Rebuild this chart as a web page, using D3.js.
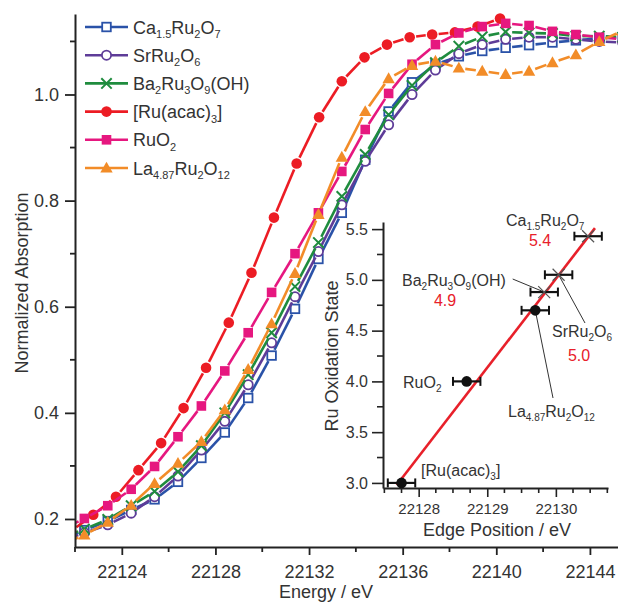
<!DOCTYPE html>
<html><head><meta charset="utf-8">
<script src="https://cdn.jsdelivr.net/npm/d3@7"></script>
<style>
html,body{margin:0;padding:0;background:#fff;}
svg{display:block;font-family:"Liberation Sans",Arial,sans-serif;}
</style></head><body>
<svg id="chart" width="618" height="602"></svg>
<script>
// ---------------- DATA ----------------
const energyGrid = [22121.4,22122.4,22123.4,22124.4,22125.4,22126.4,22127.4,22128.4,22129.4,22130.4,
  22131.4,22132.4,22133.4,22134.4,22135.4,22136.4,22137.4,22138.4,22139.4,22140.4,22141.4,22142.4,22143.4,22144.4,22145.4];
const ca15Values = [0.160,0.179,0.196,0.217,0.237,0.270,0.315,0.363,0.428,0.508,0.596,0.690,0.777,0.877,0.968,1.023,1.057,1.072,1.082,1.088,1.093,1.098,1.102,1.106,1.108];
const srValues   = [0.157,0.174,0.189,0.211,0.242,0.281,0.330,0.384,0.453,0.532,0.619,0.704,0.792,0.874,0.943,1.000,1.046,1.077,1.094,1.104,1.108,1.108,1.104,1.100,1.098];
const baValues   = [0.164,0.181,0.199,0.225,0.252,0.289,0.338,0.400,0.472,0.551,0.638,0.721,0.808,0.887,0.962,1.017,1.060,1.091,1.109,1.118,1.116,1.115,1.110,1.110,1.108];
const ruo2Values = [0.179,0.201,0.225,0.256,0.299,0.355,0.413,0.479,0.551,0.627,0.700,0.777,0.855,0.934,1.002,1.057,1.094,1.116,1.128,1.134,1.130,1.119,1.113,1.108,1.104];
const laValues   = [0.151,0.170,0.194,0.226,0.267,0.305,0.346,0.406,0.482,0.568,0.663,0.774,0.882,0.968,1.030,1.055,1.063,1.050,1.044,1.038,1.044,1.060,1.075,1.100,1.120];
const acacEnergy = [22121.83,22122.78,22123.75,22124.71,22125.68,22126.64,22127.60,22128.57,22129.54,22130.50,
  22131.47,22132.43,22133.40,22134.37,22135.33,22136.30,22137.26,22138.23,22139.20,22140.16];
const acacValues = [0.177,0.208,0.242,0.292,0.343,0.409,0.485,0.570,0.664,0.768,0.870,0.957,1.025,1.070,1.094,1.108,1.113,1.117,1.128,1.143];

const seriesNames = ["Ca_{1.5}Ru_{2}O_{7}","SrRu_{2}O_{6}","Ba_{2}Ru_{3}O_{9}(OH)","[Ru(acac)_{3}]","RuO_{2}","La_{4.87}Ru_{2}O_{12}"];
const xTicks = [22124,22128,22132,22136,22140,22144];
const xMinorTicks = [22122,22126,22130,22134,22138,22142];
const yTicks = [0.2,0.4,0.6,0.8,1.0];
const yMinorTicks = [0.3,0.5,0.7,0.9,1.1];

// inset data
const insetNames = ["[Ru(acac)_{3}]","RuO_{2}","La_{4.87}Ru_{2}O_{12}","Ba_{2}Ru_{3}O_{9}(OH)","SrRu_{2}O_{6}","Ca_{1.5}Ru_{2}O_{7}"];
const edgePosition = [22127.75,22128.70,22129.70,22129.83,22130.04,22130.47];
const oxidationState = [3.0,4.0,4.7,4.88,5.05,5.43];
const edgeError = [0.2,0.2,0.2,0.2,0.2,0.2];
const fitEdge = [22127.68,22130.57];
const fitState = [2.98,5.51];
const derivedNames = ["Ca_{1.5}Ru_{2}O_{7}","Ba_{2}Ru_{3}O_{9}(OH)","SrRu_{2}O_{6}"];
const derivedStates = ["5.4","4.9","5.0"];
const insetXTicks = [22128,22129,22130];
const insetXMinor = [22127.5,22127.75,22128.25,22128.5,22128.75,22129.25,22129.5,22129.75,22130.25,22130.5,22130.75];
const insetYTicks = [3.0,3.5,4.0,4.5,5.0,5.5];
const insetYMinor = [3.25,3.75,4.25,4.75,5.25];

// ---------------- STYLE ----------------
const colors = ["#2A52A8","#5E3C98","#1F8C3E","#EC1C24","#E6177F","#F28C28"];
const markers = ["squareOpen","circleOpen","x","circle","square","triangle"];
const textColor = "#333";
const axisColor = "#222";

const svg = d3.select("#chart");

function richText(sel, str, size, subSize, shift) {
  const parts = str.split(/(_\{[^}]*\})/).filter(s => s.length);
  let inSub = false;
  parts.forEach(p => {
    if (p.startsWith("_{")) {
      sel.append("tspan").attr("font-size", subSize).attr("dy", shift).text(p.slice(2, -1));
      inSub = true;
    } else {
      const t = sel.append("tspan").attr("font-size", size).text(p);
      if (inSub) t.attr("dy", -shift);
      inSub = false;
    }
  });
  return sel;
}

function drawMarker(g, type, cx, cy, color) {
  switch (type) {
    case "squareOpen":
      g.append("rect").attr("x", cx - 4.3).attr("y", cy - 4.3).attr("width", 8.6).attr("height", 8.6)
        .attr("fill", "#fff").attr("stroke", color).attr("stroke-width", 1.8); break;
    case "circleOpen":
      g.append("circle").attr("cx", cx).attr("cy", cy).attr("r", 4.6)
        .attr("fill", "#fff").attr("stroke", color).attr("stroke-width", 1.8); break;
    case "x":
      g.append("path").attr("d", `M${cx-5.2},${cy-5.2}L${cx+5.2},${cy+5.2}M${cx-5.2},${cy+5.2}L${cx+5.2},${cy-5.2}`)
        .attr("stroke", color).attr("stroke-width", 2).attr("fill", "none"); break;
    case "circle":
      g.append("circle").attr("cx", cx).attr("cy", cy).attr("r", 5.3).attr("fill", color); break;
    case "square":
      g.append("rect").attr("x", cx - 4.8).attr("y", cy - 4.8).attr("width", 9.6).attr("height", 9.6).attr("fill", color); break;
    case "triangle":
      g.append("path").attr("d", `M${cx},${cy-6.3}L${cx+6.2},${cy+4.6}L${cx-6.2},${cy+4.6}Z`).attr("fill", color); break;
  }
}

// ---------------- MAIN PLOT ----------------
const x = d3.scaleLinear().domain([22122, 22145.2]).range([75, 618]);
const y = d3.scaleLinear().domain([0.1472, 1.1517]).range([547, 14]);

svg.append("defs").append("clipPath").attr("id", "plotClip")
  .append("rect").attr("x", 75).attr("y", 0).attr("width", 543).attr("height", 547);

const series = [
  {e: energyGrid, v: ca15Values},
  {e: energyGrid, v: srValues},
  {e: energyGrid, v: baValues},
  {e: acacEnergy, v: acacValues},
  {e: energyGrid, v: ruo2Values},
  {e: energyGrid, v: laValues}
];

const plot = svg.append("g").attr("clip-path", "url(#plotClip)");
const gap = 6.5;
series.forEach((s, i) => {
  const g = plot.append("g");
  const pts = s.e.map((e, k) => [x(e), y(s.v[k])]);
  for (let k = 0; k < pts.length - 1; k++) {
    const [x1, y1] = pts[k], [x2, y2] = pts[k + 1];
    const d = Math.hypot(x2 - x1, y2 - y1);
    if (d <= 2 * gap) continue;
    const ux = (x2 - x1) / d, uy = (y2 - y1) / d;
    g.append("line").attr("x1", x1 + ux * gap).attr("y1", y1 + uy * gap)
      .attr("x2", x2 - ux * gap).attr("y2", y2 - uy * gap)
      .attr("stroke", colors[i]).attr("stroke-width", 2.6).attr("stroke-linecap", "butt");
  }
  pts.forEach(p => drawMarker(g, markers[i], p[0], p[1], colors[i]));
});

// axes
const xAxisG = svg.append("g").attr("transform", "translate(0,547)")
  .call(d3.axisBottom(x).tickValues(xTicks).tickFormat(d3.format("d")).tickSize(8).tickSizeOuter(0).tickPadding(10));
xAxisG.selectAll(".tick").filter(d => false);
xAxisG.selectAll(".tick")
  .data(xTicks.concat(xMinorTicks), d => d);
svg.append("g").attr("transform", "translate(0,547)").selectAll("line.minor").data(xMinorTicks).join("line")
  .attr("x1", d => x(d)).attr("x2", d => x(d)).attr("y1", 0).attr("y2", 5)
  .attr("stroke", axisColor).attr("stroke-width", 1.8);

const yAxisG = svg.append("g").attr("transform", "translate(75,0)")
  .call(d3.axisLeft(y).tickValues(yTicks).tickFormat(d3.format(".1f")).tickSize(10).tickSizeOuter(0).tickPadding(6));
svg.append("g").attr("transform", "translate(75,0)").selectAll("line").data(yMinorTicks).join("line")
  .attr("x1", -5).attr("x2", 0).attr("y1", d => y(d)).attr("y2", d => y(d))
  .attr("stroke", axisColor).attr("stroke-width", 1.8);

[xAxisG, yAxisG].forEach(a => {
  a.select(".domain").attr("stroke", axisColor).attr("stroke-width", 2);
  a.selectAll(".tick line").attr("stroke", axisColor).attr("stroke-width", 1.8);
  a.selectAll(".tick text").attr("fill", textColor).attr("font-size", 18)
    .attr("font-family", "'Liberation Sans',Arial,sans-serif");
});

svg.append("text").attr("x", 326).attr("y", 598).attr("text-anchor", "middle")
  .attr("font-size", 18).attr("fill", textColor).text("Energy / eV");
svg.append("text").attr("transform", "translate(28,283) rotate(-90)").attr("text-anchor", "middle")
  .attr("font-size", 18).attr("fill", textColor).text("Normalized Absorption");

// legend
const legend = svg.append("g");
seriesNames.forEach((name, i) => {
  const cy = 27 + i * 28.2;
  legend.append("line").attr("x1", 85).attr("x2", 128).attr("y1", cy).attr("y2", cy)
    .attr("stroke", colors[i]).attr("stroke-width", 2.6);
  drawMarker(legend, markers[i], 106.5, cy, colors[i]);
  const t = legend.append("text").attr("x", 133).attr("y", cy + 6.5).attr("fill", textColor);
  richText(t, name, 18, 11, 4.5);
});

// ---------------- INSET ----------------
const xi = d3.scaleLinear().domain([22127.48, 22130.76]).range([383, 608]);
const yi = d3.scaleLinear().domain([2.95, 5.57]).range([488, 222]);

const inset = svg.append("g");
const xiAxis = inset.append("g").attr("transform", "translate(0,488)")
  .call(d3.axisBottom(xi).tickValues(insetXTicks).tickFormat(d3.format("d")).tickSize(9).tickSizeOuter(0).tickPadding(6));
inset.append("g").attr("transform", "translate(0,488)").selectAll("line").data(insetXMinor).join("line")
  .attr("x1", d => xi(d)).attr("x2", d => xi(d)).attr("y1", 0).attr("y2", 5)
  .attr("stroke", axisColor).attr("stroke-width", 1.6);
const yiAxis = inset.append("g").attr("transform", "translate(383,0)")
  .call(d3.axisLeft(yi).tickValues(insetYTicks).tickFormat(d3.format(".1f")).tickSize(11).tickSizeOuter(0).tickPadding(4));
inset.append("g").attr("transform", "translate(383,0)").selectAll("line").data(insetYMinor).join("line")
  .attr("x1", -6).attr("x2", 0).attr("y1", d => yi(d)).attr("y2", d => yi(d))
  .attr("stroke", axisColor).attr("stroke-width", 1.6);
[xiAxis, yiAxis].forEach(a => {
  a.select(".domain").attr("stroke", axisColor).attr("stroke-width", 2);
  a.selectAll(".tick line").attr("stroke", axisColor).attr("stroke-width", 1.6);
  a.selectAll(".tick text").attr("fill", textColor).attr("font-family", "'Liberation Sans',Arial,sans-serif");
});
xiAxis.selectAll(".tick text").attr("font-size", 15);
yiAxis.selectAll(".tick text").attr("font-size", 16);

inset.append("text").attr("x", 497).attr("y", 536).attr("text-anchor", "middle")
  .attr("font-size", 18).attr("fill", textColor).text("Edge Position / eV");
inset.append("text").attr("transform", "translate(338,356) rotate(-90)").attr("text-anchor", "middle")
  .attr("font-size", 18).attr("fill", textColor).text("Ru Oxidation State");

// fit line
inset.append("line").attr("x1", xi(fitEdge[0])).attr("y1", yi(fitState[0]))
  .attr("x2", xi(fitEdge[1])).attr("y2", yi(fitState[1]))
  .attr("stroke", "#E8202A").attr("stroke-width", 2.6);

// leader lines (from points to labels)
const leaders = [
  {i: 3, tx: 512.7, ty: 279},
  {i: 4, tx: 585, ty: 323},
  {i: 2, tx: 553, ty: 398}
];
leaders.forEach(l => {
  inset.append("line").attr("x1", xi(edgePosition[l.i])).attr("y1", yi(oxidationState[l.i]))
    .attr("x2", l.tx).attr("y2", l.ty).attr("stroke", "#333").attr("stroke-width", 1);
});

// error bars and points
edgePosition.forEach((e, i) => {
  const cx = xi(e), cy = yi(oxidationState[i]);
  const x1 = xi(e - edgeError[i]), x2 = xi(e + edgeError[i]);
  inset.append("line").attr("x1", x1).attr("x2", x2).attr("y1", cy).attr("y2", cy)
    .attr("stroke", "#111").attr("stroke-width", 2.2);
  [x1, x2].forEach(xx => inset.append("line").attr("x1", xx).attr("x2", xx).attr("y1", cy - 4.5).attr("y2", cy + 4.5)
    .attr("stroke", "#111").attr("stroke-width", 2));
  if (i < 3) {
    inset.append("circle").attr("cx", cx).attr("cy", cy).attr("r", 5.3).attr("fill", "#111");
  } else {
    inset.append("path").attr("d", `M${cx-6},${cy-6}L${cx+6},${cy+6}M${cx-6},${cy+6}L${cx+6},${cy-6}`)
      .attr("stroke", "#555").attr("stroke-width", 1.2);
  }
});

// annotations
const annot = [
  {name: insetNames[5], x: 506, y: 226, anchor: "start"},
  {name: insetNames[3], x: 402, y: 286, anchor: "start"},
  {name: insetNames[4], x: 552, y: 337, anchor: "start"},
  {name: insetNames[1], x: 403, y: 388, anchor: "start"},
  {name: insetNames[2], x: 508, y: 417, anchor: "start"},
  {name: insetNames[0], x: 421, y: 476, anchor: "start"}
];
annot.forEach(a => {
  const t = inset.append("text").attr("x", a.x).attr("y", a.y).attr("text-anchor", a.anchor).attr("fill", textColor);
  richText(t, a.name, 16, 10, 4);
});
const valuePos = [{x: 540, y: 246}, {x: 445, y: 306}, {x: 579, y: 361}];
derivedStates.forEach((s, i) => {
  inset.append("text").attr("x", valuePos[i].x).attr("y", valuePos[i].y).attr("text-anchor", "middle")
    .attr("font-size", 16).attr("fill", "#E8202A").text(s);
});
</script>
</body></html>
